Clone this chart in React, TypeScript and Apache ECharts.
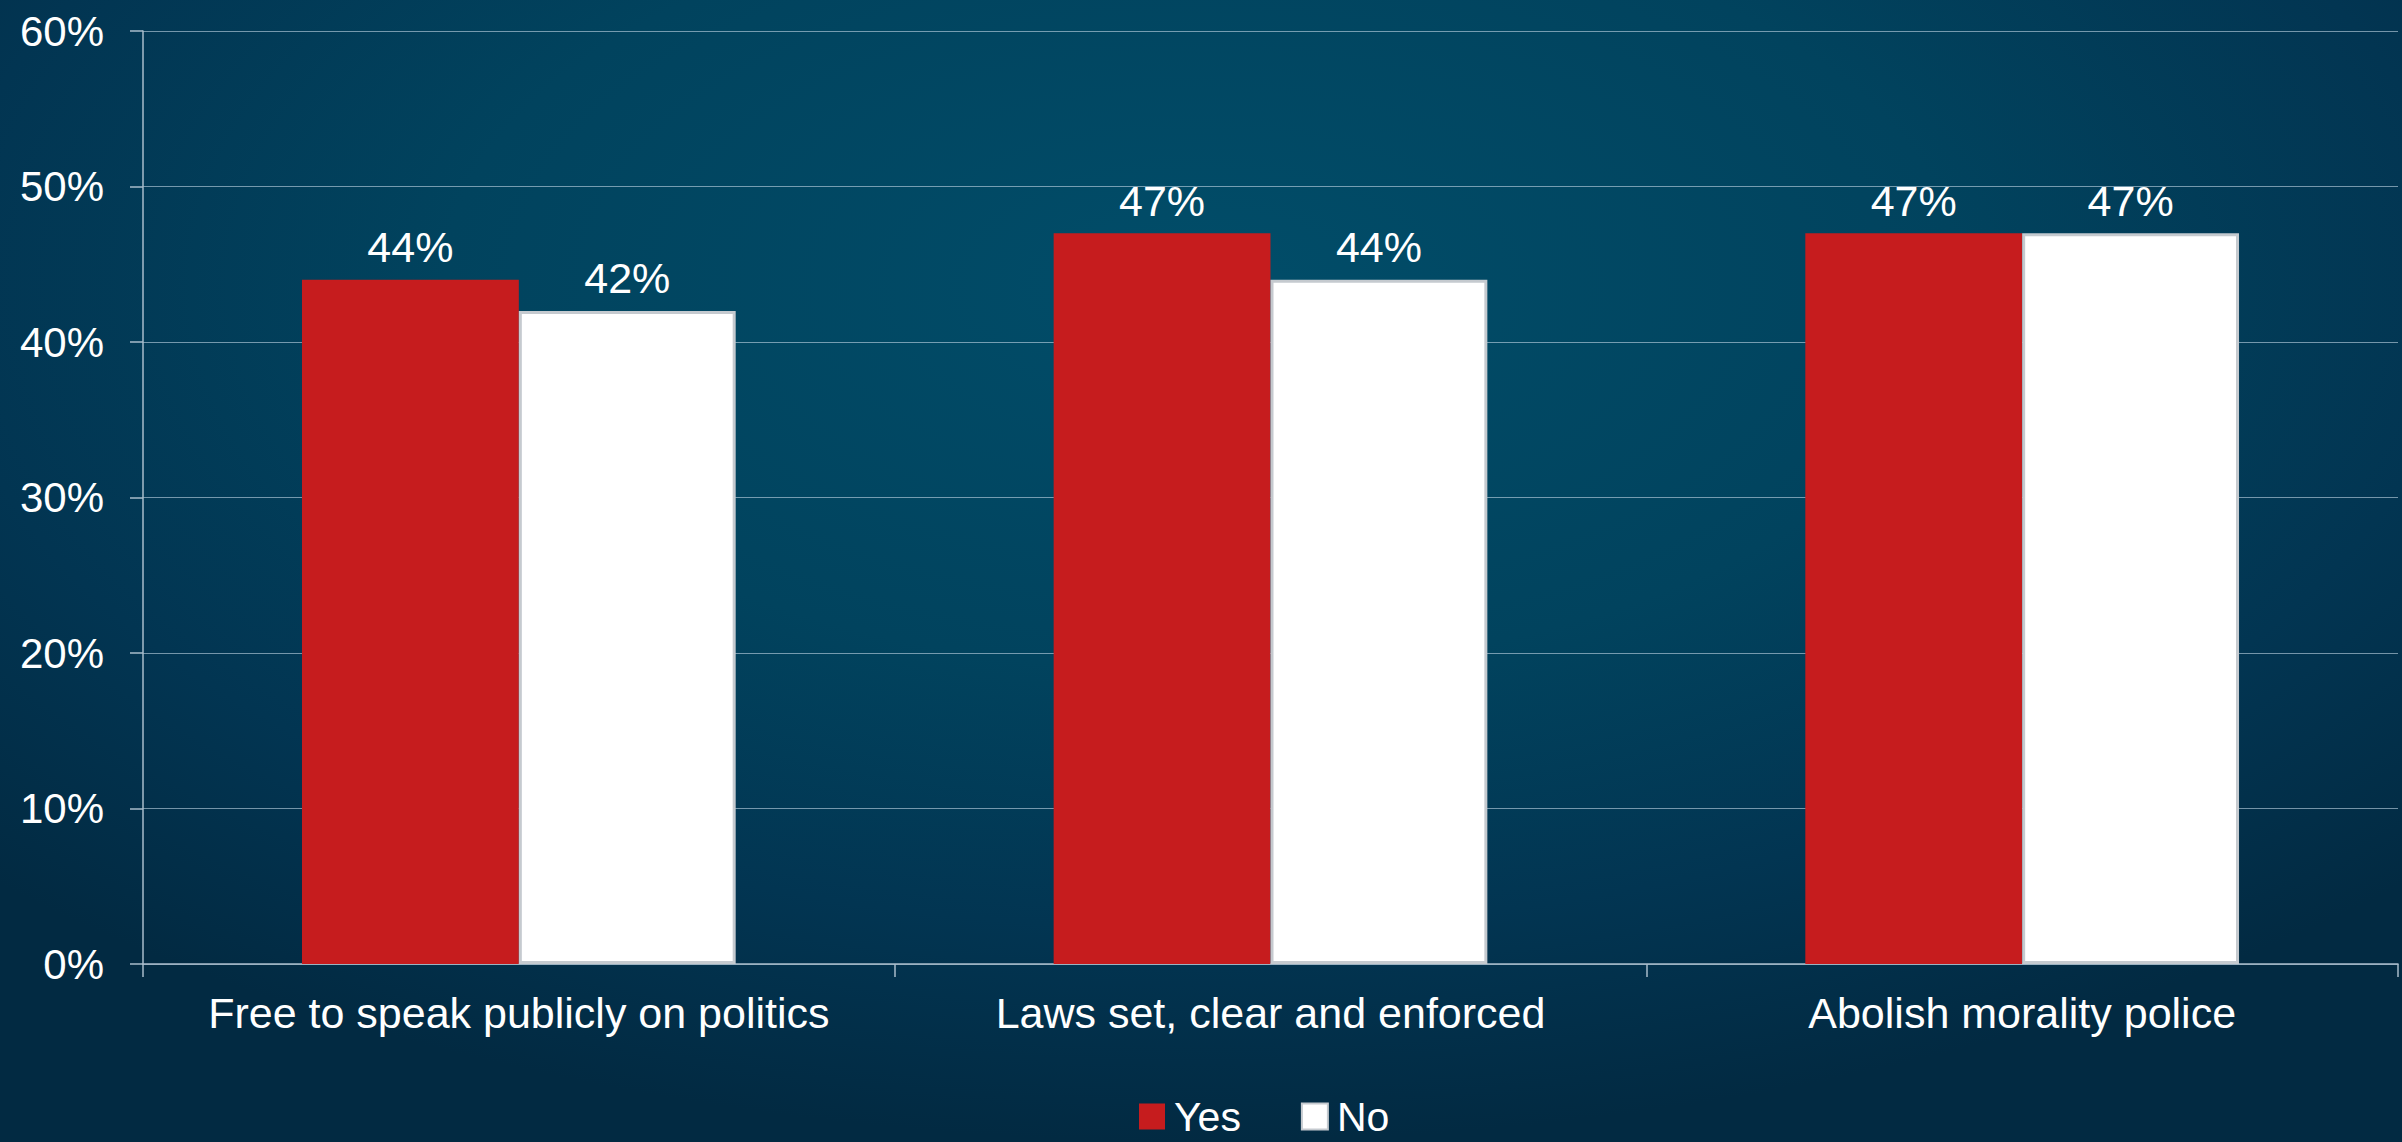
import React, { useEffect, useRef } from "react";
import * as echarts from "echarts";

const categories = [
  "Free to speak publicly on politics",
  "Laws set, clear and enforced",
  "Abolish morality police",
];
const yesValues = [44, 47, 47];
const noValues = [42, 44, 47];
const seriesNames = ["Yes", "No"];

export default function App() {
  const ref = useRef<HTMLDivElement>(null);
  useEffect(() => {
    document.body.style.margin = "0";
    const chart = echarts.init(ref.current!, null, { renderer: "svg" });
    const font = "Liberation Sans, Arial, sans-serif";
    const labelCfg = {
      show: true,
      position: "top",
      distance: 11,
      color: "#ffffff",
      fontSize: 43,
      fontFamily: font,
      formatter: (p: any) => p.value + "%",
    };
    chart.setOption({
      animation: false,
      backgroundColor: "transparent",
      textStyle: { fontFamily: font },
      grid: { left: 143, right: 4, top: 31, bottom: 178, containLabel: false },
      legend: {
        data: seriesNames,
        left: 1134,
        top: 1091,
        itemWidth: 26,
        itemHeight: 26,
        itemGap: 60,
        icon: "rect",
        textStyle: { color: "#ffffff", fontSize: 41, fontFamily: font, padding: [0, 0, 2, 4] },
      },
      xAxis: {
        type: "category",
        data: categories,
        axisLine: { lineStyle: { color: "#a9bccb", width: 1.5 } },
        axisTick: { show: true, interval: 0, length: 13, lineStyle: { color: "#a9bccb", width: 1.5 } },
        axisLabel: { color: "#ffffff", fontSize: 43, margin: 27, interval: 0, fontFamily: font },
      },
      yAxis: {
        type: "value",
        min: 0,
        max: 60,
        interval: 10,
        axisLine: { show: true, lineStyle: { color: "#a9bccb", width: 1.5 } },
        axisTick: { show: true, length: 13, lineStyle: { color: "#a9bccb", width: 1.5 } },
        splitLine: { lineStyle: { color: "rgba(195,215,230,0.6)", width: 1.2 } },
        axisLabel: {
          color: "#ffffff",
          fontSize: 42,
          margin: 39,
          fontFamily: font,
          formatter: (v: number) => v + "%",
        },
      },
      series: [
        {
          name: seriesNames[0],
          type: "bar",
          data: yesValues,
          barGap: "0%",
          barCategoryGap: "42.3%",
          itemStyle: { color: "#c61c1e" },
          label: labelCfg,
        },
        {
          name: seriesNames[1],
          type: "bar",
          data: noValues,
          itemStyle: { color: "#ffffff", borderColor: "#c5cacf", borderWidth: 3 },
          label: labelCfg,
        },
      ],
    });
    return () => chart.dispose();
  }, []);
  return (
    <div
      ref={ref}
      style={{
        width: 2402,
        height: 1142,
        background:
          "radial-gradient(ellipse 70% 75% at 50% 25%, #014d69 0%, #01435e 45%, #023552 75%, #022a42 100%)",
      }}
    />
  );
}
